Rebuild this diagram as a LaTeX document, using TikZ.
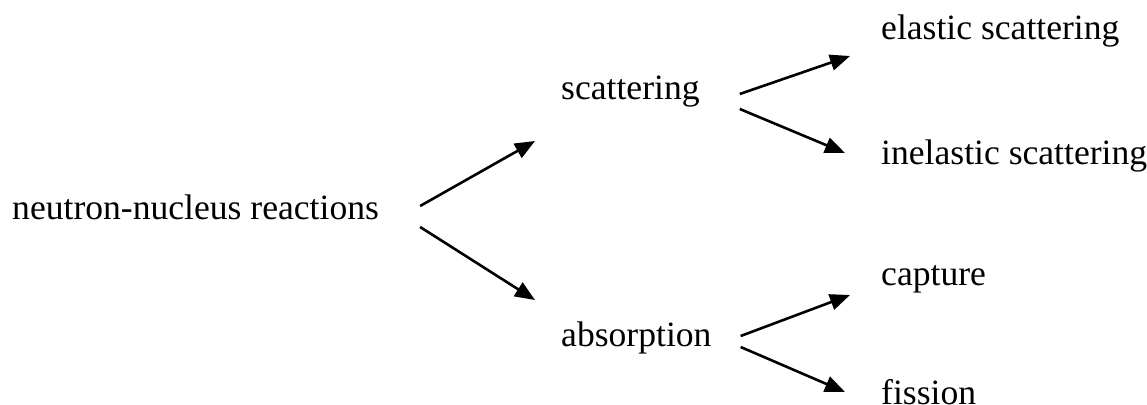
\documentclass[tikz,border=0pt]{standalone}
\usepackage{fontspec}
\setmainfont{Liberation Serif}
\usetikzlibrary{arrows.meta}
\begin{document}
\begin{tikzpicture}[x=1pt,y=1pt,
  lbl/.style={anchor=base west,inner sep=0pt,font=\fontsize{35.6}{42}\selectfont},
  arr/.style={line width=2.6pt,-{Triangle[length=20pt,width=16pt]}}]
\useasboundingbox (0,0) rectangle (1147,404);
\node[lbl] (root) at (12,184) {neutron-nucleus reactions};
\node[lbl] (scat) at (561,304) {scattering};
\node[lbl] (abs) at (561,57) {absorption};
\node[lbl] (el) at (881,364) {elastic scattering};
\node[lbl] (inel) at (881,239) {inelastic scattering};
\node[lbl] (cap) at (881,118) {capture};
\node[lbl] (fis) at (881,0) {fission};
\draw[arr] ([xshift=41pt,yshift=14pt]root.base east) -- ([xshift=-26pt,yshift=-41pt]scat.base west);
\draw[arr] ([xshift=41pt,yshift=-7pt]root.base east) -- ([xshift=-26pt,yshift=47pt]abs.base west);
\draw[arr] ([xshift=40pt,yshift=6pt]scat.base east) -- ([xshift=-31pt,yshift=-16pt]el.base west);
\draw[arr] ([xshift=40pt,yshift=-9pt]scat.base east) -- ([xshift=-36pt,yshift=12pt]inel.base west);
\draw[arr] ([xshift=29pt,yshift=11pt]abs.base east) -- ([xshift=-31pt,yshift=-9pt]cap.base west);
\draw[arr] ([xshift=29pt,yshift=0pt]abs.base east) -- ([xshift=-36pt,yshift=12pt]fis.base west);
\end{tikzpicture}
\end{document}
